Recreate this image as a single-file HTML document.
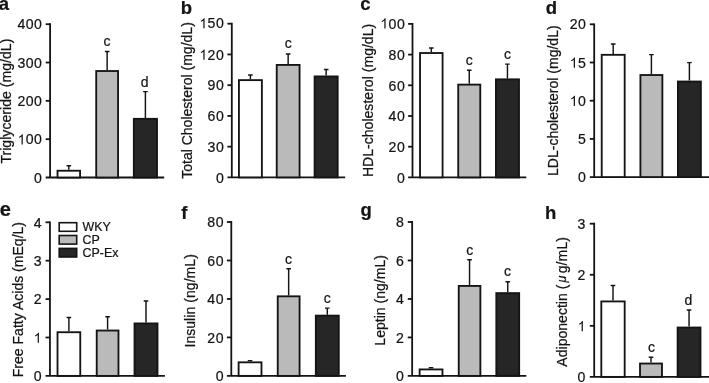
<!DOCTYPE html>
<html><head><meta charset="utf-8"><style>
html,body{margin:0;padding:0;background:#fff;}
text{stroke:#141414;stroke-width:0.22px;}
svg{display:block;will-change:transform;font-family:"Liberation Sans",sans-serif;fill:#141414;}
</style></head><body>
<svg width="709" height="383" viewBox="0 0 709 383">
<rect width="709" height="383" fill="#fff"/>
<path d="M50.1 23.3 V177.5 M45.7 177.5 H164.2" stroke="#141414" stroke-width="1.8" fill="none"/>
<text x="34.11" y="182.70" font-size="14.1" letter-spacing="0">0</text>
<path d="M45.7 139.18 H50.1" stroke="#141414" stroke-width="1.8" fill="none"/>
<path transform="translate(17.53 144.38) scale(0.00688 -0.00688)" d="M763 0 H583 V1147 Q518 1085 412.5 1023 Q307 961 223 930 V1104 Q374 1175 487 1276 Q600 1377 647 1472 H763 Z" fill="#141414"/><text x="25.82" y="144.38" font-size="14.1" letter-spacing="0.45">00</text>
<path d="M45.7 100.85 H50.1" stroke="#141414" stroke-width="1.8" fill="none"/>
<text x="17.53" y="106.05" font-size="14.1" letter-spacing="0.45">200</text>
<path d="M45.7 62.52 H50.1" stroke="#141414" stroke-width="1.8" fill="none"/>
<text x="17.53" y="67.72" font-size="14.1" letter-spacing="0.45">300</text>
<path d="M45.7 24.20 H50.1" stroke="#141414" stroke-width="1.8" fill="none"/>
<text x="17.53" y="28.80" font-size="14.1" letter-spacing="0.45">400</text>
<path d="M68.80 169.8 V165.8 M66.50 165.8 H71.10" stroke="#141414" stroke-width="1.45" fill="none"/>
<rect x="57.52" y="170.73" width="22.55" height="6.77" fill="#ffffff" stroke="#141414" stroke-width="1.85"/>
<path d="M107.15 70.1 V51.5 M104.85 51.5 H109.45" stroke="#141414" stroke-width="1.45" fill="none"/>
<rect x="96.22" y="71.02" width="21.85" height="106.48" fill="#bababa" stroke="#141414" stroke-width="1.85"/>
<path d="M145.40 117.9 V91.6 M143.10 91.6 H147.70" stroke="#141414" stroke-width="1.45" fill="none"/>
<rect x="133.83" y="118.83" width="23.15" height="58.67" fill="#262626" stroke="#141414" stroke-width="1.85"/>
<text x="107.1" y="46.1" text-anchor="middle" font-size="14.0">c</text>
<text x="144.6" y="86.5" text-anchor="middle" font-size="14.0">d</text>
<text transform="translate(10.7 163.61) rotate(-90)" textLength="125.01" lengthAdjust="spacing" font-size="14.0">Triglyceride (mg/dL)</text>
<text transform="translate(-1.3 10.0) scale(0.97 1)" font-size="19.1" font-weight="bold">a</text>
<path d="M231.8 22.8 V177.4 M227.4 177.4 H345.2" stroke="#141414" stroke-width="1.8" fill="none"/>
<text x="215.91" y="182.60" font-size="14.1" letter-spacing="0">0</text>
<path d="M227.4 146.66 H231.8" stroke="#141414" stroke-width="1.8" fill="none"/>
<text x="207.62" y="151.86" font-size="14.1" letter-spacing="0.45">30</text>
<path d="M227.4 115.92 H231.8" stroke="#141414" stroke-width="1.8" fill="none"/>
<text x="207.62" y="121.12" font-size="14.1" letter-spacing="0.45">60</text>
<path d="M227.4 85.18 H231.8" stroke="#141414" stroke-width="1.8" fill="none"/>
<text x="207.62" y="90.38" font-size="14.1" letter-spacing="0.45">90</text>
<path d="M227.4 54.44 H231.8" stroke="#141414" stroke-width="1.8" fill="none"/>
<path transform="translate(199.33 59.64) scale(0.00688 -0.00688)" d="M763 0 H583 V1147 Q518 1085 412.5 1023 Q307 961 223 930 V1104 Q374 1175 487 1276 Q600 1377 647 1472 H763 Z" fill="#141414"/><text x="207.62" y="59.64" font-size="14.1" letter-spacing="0.45">20</text>
<path d="M227.4 23.70 H231.8" stroke="#141414" stroke-width="1.8" fill="none"/>
<path transform="translate(199.33 28.30) scale(0.00688 -0.00688)" d="M763 0 H583 V1147 Q518 1085 412.5 1023 Q307 961 223 930 V1104 Q374 1175 487 1276 Q600 1377 647 1472 H763 Z" fill="#141414"/><text x="207.62" y="28.30" font-size="14.1" letter-spacing="0.45">50</text>
<path d="M250.40 79.2 V75 M248.10 75 H252.70" stroke="#141414" stroke-width="1.45" fill="none"/>
<rect x="238.93" y="80.12" width="22.95" height="97.28" fill="#ffffff" stroke="#141414" stroke-width="1.85"/>
<path d="M288.15 64 V53.9 M285.85 53.9 H290.45" stroke="#141414" stroke-width="1.45" fill="none"/>
<rect x="276.73" y="64.92" width="22.85" height="112.48" fill="#bababa" stroke="#141414" stroke-width="1.85"/>
<path d="M326.15 75.5 V69.4 M323.85 69.4 H328.45" stroke="#141414" stroke-width="1.45" fill="none"/>
<rect x="314.62" y="76.42" width="23.05" height="100.98" fill="#262626" stroke="#141414" stroke-width="1.85"/>
<text x="288.2" y="47.9" text-anchor="middle" font-size="14.0">c</text>
<text transform="translate(191.9 178.81) rotate(-90)" textLength="156.61" lengthAdjust="spacing" font-size="14.0">Total Cholesterol (mg/dL)</text>
<text transform="translate(180.8 13.6) scale(0.97 1)" font-size="19.1" font-weight="bold">b</text>
<path d="M412.5 23.0 V177.4 M408.1 177.4 H526.3" stroke="#141414" stroke-width="1.8" fill="none"/>
<text x="396.91" y="182.60" font-size="14.1" letter-spacing="0">0</text>
<path d="M408.1 146.70 H412.5" stroke="#141414" stroke-width="1.8" fill="none"/>
<text x="388.62" y="151.90" font-size="14.1" letter-spacing="0.45">20</text>
<path d="M408.1 116.00 H412.5" stroke="#141414" stroke-width="1.8" fill="none"/>
<text x="388.62" y="121.20" font-size="14.1" letter-spacing="0.45">40</text>
<path d="M408.1 85.30 H412.5" stroke="#141414" stroke-width="1.8" fill="none"/>
<text x="388.62" y="90.50" font-size="14.1" letter-spacing="0.45">60</text>
<path d="M408.1 54.60 H412.5" stroke="#141414" stroke-width="1.8" fill="none"/>
<text x="388.62" y="59.80" font-size="14.1" letter-spacing="0.45">80</text>
<path d="M408.1 23.90 H412.5" stroke="#141414" stroke-width="1.8" fill="none"/>
<path transform="translate(380.33 28.50) scale(0.00688 -0.00688)" d="M763 0 H583 V1147 Q518 1085 412.5 1023 Q307 961 223 930 V1104 Q374 1175 487 1276 Q600 1377 647 1472 H763 Z" fill="#141414"/><text x="388.62" y="28.50" font-size="14.1" letter-spacing="0.45">00</text>
<path d="M431.30 52.1 V48 M429.00 48 H433.60" stroke="#141414" stroke-width="1.45" fill="none"/>
<rect x="420.03" y="53.02" width="22.55" height="124.38" fill="#ffffff" stroke="#141414" stroke-width="1.85"/>
<path d="M469.25 83.7 V70.2 M466.95 70.2 H471.55" stroke="#141414" stroke-width="1.45" fill="none"/>
<rect x="458.23" y="84.62" width="22.05" height="92.78" fill="#bababa" stroke="#141414" stroke-width="1.85"/>
<path d="M507.45 78.4 V64.1 M505.15 64.1 H509.75" stroke="#141414" stroke-width="1.45" fill="none"/>
<rect x="495.93" y="79.33" width="23.05" height="98.08" fill="#262626" stroke="#141414" stroke-width="1.85"/>
<text x="469.2" y="64.9" text-anchor="middle" font-size="14.0">c</text>
<text x="507.5" y="58.5" text-anchor="middle" font-size="14.0">c</text>
<text transform="translate(372.5 177.12) rotate(-90)" textLength="153.32" lengthAdjust="spacing" font-size="14.0">HDL-cholesterol (mg/dL)</text>
<text transform="translate(360.2 10.4) scale(0.97 1)" font-size="19.1" font-weight="bold">c</text>
<path d="M594.2 23.400000000000002 V177.1 M589.8000000000001 177.1 H709.5" stroke="#141414" stroke-width="1.8" fill="none"/>
<text x="578.01" y="182.30" font-size="14.1" letter-spacing="0">0</text>
<path d="M589.8000000000001 138.90 H594.2" stroke="#141414" stroke-width="1.8" fill="none"/>
<text x="578.01" y="144.10" font-size="14.1" letter-spacing="0">5</text>
<path d="M589.8000000000001 100.70 H594.2" stroke="#141414" stroke-width="1.8" fill="none"/>
<path transform="translate(569.72 105.90) scale(0.00688 -0.00688)" d="M763 0 H583 V1147 Q518 1085 412.5 1023 Q307 961 223 930 V1104 Q374 1175 487 1276 Q600 1377 647 1472 H763 Z" fill="#141414"/><text x="578.01" y="105.90" font-size="14.1" letter-spacing="0.45">0</text>
<path d="M589.8000000000001 62.50 H594.2" stroke="#141414" stroke-width="1.8" fill="none"/>
<path transform="translate(569.72 67.70) scale(0.00688 -0.00688)" d="M763 0 H583 V1147 Q518 1085 412.5 1023 Q307 961 223 930 V1104 Q374 1175 487 1276 Q600 1377 647 1472 H763 Z" fill="#141414"/><text x="578.01" y="67.70" font-size="14.1" letter-spacing="0.45">5</text>
<path d="M589.8000000000001 24.30 H594.2" stroke="#141414" stroke-width="1.8" fill="none"/>
<text x="569.72" y="28.90" font-size="14.1" letter-spacing="0.45">20</text>
<path d="M613.20 53.9 V43.9 M610.90 43.9 H615.50" stroke="#141414" stroke-width="1.45" fill="none"/>
<rect x="601.72" y="54.82" width="22.95" height="122.27" fill="#ffffff" stroke="#141414" stroke-width="1.85"/>
<path d="M651.40 74.1 V54.6 M649.10 54.6 H653.70" stroke="#141414" stroke-width="1.45" fill="none"/>
<rect x="640.42" y="75.02" width="21.95" height="102.08" fill="#bababa" stroke="#141414" stroke-width="1.85"/>
<path d="M689.40 80.6 V62.6 M687.10 62.6 H691.70" stroke="#141414" stroke-width="1.45" fill="none"/>
<rect x="677.92" y="81.52" width="22.95" height="95.58" fill="#262626" stroke="#141414" stroke-width="1.85"/>
<text transform="translate(557.5 176.05) rotate(-90)" textLength="150.70" lengthAdjust="spacing" font-size="14.0">LDL-cholesterol (mg/dL)</text>
<text transform="translate(545.7 13.6) scale(0.97 1)" font-size="19.1" font-weight="bold">d</text>
<path d="M49.95 221.4 V375.9 M45.550000000000004 375.9 H164.9" stroke="#141414" stroke-width="1.8" fill="none"/>
<text x="33.66" y="381.25" font-size="14.1" letter-spacing="0">0</text>
<path d="M45.550000000000004 337.50 H49.95" stroke="#141414" stroke-width="1.8" fill="none"/>
<path transform="translate(33.66 342.85) scale(0.00688 -0.00688)" d="M763 0 H583 V1147 Q518 1085 412.5 1023 Q307 961 223 930 V1104 Q374 1175 487 1276 Q600 1377 647 1472 H763 Z" fill="#141414"/>
<path d="M45.550000000000004 299.10 H49.95" stroke="#141414" stroke-width="1.8" fill="none"/>
<text x="33.66" y="304.45" font-size="14.1" letter-spacing="0">2</text>
<path d="M45.550000000000004 260.70 H49.95" stroke="#141414" stroke-width="1.8" fill="none"/>
<text x="33.66" y="266.05" font-size="14.1" letter-spacing="0">3</text>
<path d="M45.550000000000004 222.30 H49.95" stroke="#141414" stroke-width="1.8" fill="none"/>
<text x="33.66" y="227.65" font-size="14.1" letter-spacing="0">4</text>
<path d="M68.90 331.3 V317.4 M66.60 317.4 H71.20" stroke="#141414" stroke-width="1.45" fill="none"/>
<rect x="57.52" y="332.23" width="22.75" height="43.67" fill="#ffffff" stroke="#141414" stroke-width="1.85"/>
<path d="M107.60 329.6 V316.7 M105.30 316.7 H109.90" stroke="#141414" stroke-width="1.45" fill="none"/>
<rect x="96.72" y="330.53" width="21.75" height="45.37" fill="#bababa" stroke="#141414" stroke-width="1.85"/>
<path d="M146.00 322.5 V300.9 M143.70 300.9 H148.30" stroke="#141414" stroke-width="1.45" fill="none"/>
<rect x="134.53" y="323.43" width="22.95" height="52.47" fill="#262626" stroke="#141414" stroke-width="1.85"/>
<text transform="translate(22.8 377.22) rotate(-90)" textLength="155.27" lengthAdjust="spacing" font-size="14.0">Free Fatty Acids (mEq/L)</text>
<text transform="translate(-0.3 216.3) scale(1.03 1)" font-size="19.5" font-weight="bold">e</text>
<path d="M231.3 221.1 V375.9 M226.9 375.9 H345.9" stroke="#141414" stroke-width="1.8" fill="none"/>
<text x="215.66" y="381.25" font-size="14.1" letter-spacing="0">0</text>
<path d="M226.9 337.42 H231.3" stroke="#141414" stroke-width="1.8" fill="none"/>
<text x="207.37" y="342.77" font-size="14.1" letter-spacing="0.45">20</text>
<path d="M226.9 298.95 H231.3" stroke="#141414" stroke-width="1.8" fill="none"/>
<text x="207.37" y="304.30" font-size="14.1" letter-spacing="0.45">40</text>
<path d="M226.9 260.48 H231.3" stroke="#141414" stroke-width="1.8" fill="none"/>
<text x="207.37" y="265.82" font-size="14.1" letter-spacing="0.45">60</text>
<path d="M226.9 222.00 H231.3" stroke="#141414" stroke-width="1.8" fill="none"/>
<text x="207.37" y="227.35" font-size="14.1" letter-spacing="0.45">80</text>
<path d="M250.05 361.4 V360.6 M247.75 360.6 H252.35" stroke="#141414" stroke-width="1.45" fill="none"/>
<rect x="238.62" y="362.32" width="22.85" height="13.57" fill="#ffffff" stroke="#141414" stroke-width="1.85"/>
<path d="M288.65 295.4 V268.7 M286.35 268.7 H290.95" stroke="#141414" stroke-width="1.45" fill="none"/>
<rect x="277.73" y="296.32" width="21.85" height="79.58" fill="#bababa" stroke="#141414" stroke-width="1.85"/>
<path d="M327.30 314.7 V308.1 M325.00 308.1 H329.60" stroke="#141414" stroke-width="1.45" fill="none"/>
<rect x="315.82" y="315.62" width="22.95" height="60.27" fill="#262626" stroke="#141414" stroke-width="1.85"/>
<text x="288.6" y="263.6" text-anchor="middle" font-size="14.0">c</text>
<text x="327.2" y="302.6" text-anchor="middle" font-size="14.0">c</text>
<text transform="translate(194.8 347.56) rotate(-90)" textLength="93.41" lengthAdjust="spacing" font-size="14.0">Insulin (ng/mL)</text>
<text transform="translate(181.3 218.6) scale(0.97 1)" font-size="19.1" font-weight="bold">f</text>
<path d="M412.15 221.1 V375.9 M407.75 375.9 H526.3" stroke="#141414" stroke-width="1.8" fill="none"/>
<text x="395.96" y="381.25" font-size="14.1" letter-spacing="0">0</text>
<path d="M407.75 337.42 H412.15" stroke="#141414" stroke-width="1.8" fill="none"/>
<text x="395.96" y="342.77" font-size="14.1" letter-spacing="0">2</text>
<path d="M407.75 298.95 H412.15" stroke="#141414" stroke-width="1.8" fill="none"/>
<text x="395.96" y="304.30" font-size="14.1" letter-spacing="0">4</text>
<path d="M407.75 260.48 H412.15" stroke="#141414" stroke-width="1.8" fill="none"/>
<text x="395.96" y="265.82" font-size="14.1" letter-spacing="0">6</text>
<path d="M407.75 222.00 H412.15" stroke="#141414" stroke-width="1.8" fill="none"/>
<text x="395.96" y="227.35" font-size="14.1" letter-spacing="0">8</text>
<path d="M431.05 368.5 V367.7 M428.75 367.7 H433.35" stroke="#141414" stroke-width="1.45" fill="none"/>
<rect x="419.62" y="369.43" width="22.85" height="6.47" fill="#ffffff" stroke="#141414" stroke-width="1.85"/>
<path d="M469.55 285 V259.8 M467.25 259.8 H471.85" stroke="#141414" stroke-width="1.45" fill="none"/>
<rect x="458.73" y="285.93" width="21.65" height="89.97" fill="#bababa" stroke="#141414" stroke-width="1.85"/>
<path d="M507.75 292.2 V281.7 M505.45 281.7 H510.05" stroke="#141414" stroke-width="1.45" fill="none"/>
<rect x="496.32" y="293.12" width="22.85" height="82.77" fill="#262626" stroke="#141414" stroke-width="1.85"/>
<text x="469.7" y="254.5" text-anchor="middle" font-size="14.0">c</text>
<text x="507.5" y="276.4" text-anchor="middle" font-size="14.0">c</text>
<text transform="translate(384.85 345.65) rotate(-90)" textLength="90.55" lengthAdjust="spacing" font-size="14.0">Leptin (ng/mL)</text>
<text transform="translate(360.4 215.6) scale(0.97 1)" font-size="19.1" font-weight="bold">g</text>
<path d="M594.2 222.79999999999998 V376.9 M589.8000000000001 376.9 H709.5" stroke="#141414" stroke-width="1.8" fill="none"/>
<text x="577.61" y="382.25" font-size="14.1" letter-spacing="0">0</text>
<path d="M589.8000000000001 325.83 H594.2" stroke="#141414" stroke-width="1.8" fill="none"/>
<path transform="translate(577.61 331.18) scale(0.00688 -0.00688)" d="M763 0 H583 V1147 Q518 1085 412.5 1023 Q307 961 223 930 V1104 Q374 1175 487 1276 Q600 1377 647 1472 H763 Z" fill="#141414"/>
<path d="M589.8000000000001 274.77 H594.2" stroke="#141414" stroke-width="1.8" fill="none"/>
<text x="577.61" y="280.12" font-size="14.1" letter-spacing="0">2</text>
<path d="M589.8000000000001 223.70 H594.2" stroke="#141414" stroke-width="1.8" fill="none"/>
<text x="577.61" y="229.05" font-size="14.1" letter-spacing="0">3</text>
<path d="M613.00 300.5 V285.5 M610.70 285.5 H615.30" stroke="#141414" stroke-width="1.45" fill="none"/>
<rect x="601.32" y="301.43" width="23.35" height="75.47" fill="#ffffff" stroke="#141414" stroke-width="1.85"/>
<path d="M651.00 362.6 V357.3 M648.70 357.3 H653.30" stroke="#141414" stroke-width="1.45" fill="none"/>
<rect x="640.02" y="363.53" width="21.95" height="13.37" fill="#bababa" stroke="#141414" stroke-width="1.85"/>
<path d="M689.05 326.6 V309.9 M686.75 309.9 H691.35" stroke="#141414" stroke-width="1.45" fill="none"/>
<rect x="677.62" y="327.53" width="22.85" height="49.37" fill="#262626" stroke="#141414" stroke-width="1.85"/>
<text x="651.5" y="351.9" text-anchor="middle" font-size="14.0">c</text>
<text x="688.5" y="304.8" text-anchor="middle" font-size="14.0">d</text>
<text transform="translate(545.0 218.7) scale(0.97 1)" font-size="19.1" font-weight="bold">h</text>
<text transform="translate(566.6 366.7) rotate(-90)" font-size="14" textLength="82.1" lengthAdjust="spacing">Adiponectin (</text>
<text transform="translate(565.8 282.4) rotate(-90)" font-size="12.5" font-style="italic">μ</text>
<text transform="translate(566.6 273.3) rotate(-90)" font-size="14" textLength="36.3" lengthAdjust="spacing">g/mL)</text>
<rect x="59.2" y="222.7" width="17.5" height="8.6" fill="#fff" stroke="#141414" stroke-width="1.6"/>
<rect x="59.2" y="235.5" width="17.5" height="8.6" fill="#bababa" stroke="#141414" stroke-width="1.6"/>
<rect x="59.2" y="248.4" width="17.5" height="8.6" fill="#262626" stroke="#141414" stroke-width="1.6"/>
<text x="82.6" y="230.9" font-size="12.4">WKY</text>
<text x="82.6" y="243.8" font-size="12.4">CP</text>
<text x="82.6" y="256.6" font-size="12.4">CP-Ex</text>

</svg>
</body></html>
